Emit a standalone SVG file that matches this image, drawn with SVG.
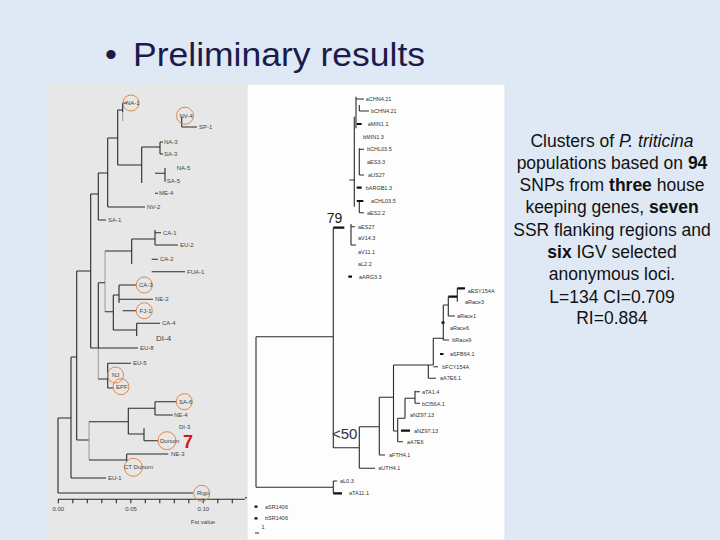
<svg xmlns="http://www.w3.org/2000/svg" width="720" height="540" viewBox="0 0 720 540">
<style>
.br{fill:none;stroke:#2a2a2a;stroke-width:1.1}
.fa{fill:none;stroke:#9a9a9a;stroke-width:1}
.th{fill:none;stroke:#111;stroke-width:2.2}
.ci{fill:none;stroke:#e0864a;stroke-width:1}
.ll{font-family:"Liberation Sans",Arial,sans-serif;font-size:6px;fill:#444}
.rl{font-family:"Liberation Sans",Arial,sans-serif;font-size:5.5px;fill:#333}
.cap{font-family:"Liberation Sans",Arial,sans-serif;font-size:17.5px;fill:#111;text-anchor:middle}
.bs{font-family:"Liberation Sans",Arial,sans-serif;font-size:15px;fill:#333}
</style>
<rect width="720" height="540" fill="#dfe9f5"/>
<g id="title">
<text x="105" y="66" font-family="'Liberation Sans',Arial,sans-serif" font-size="34" fill="#1b1b4b">•</text>
<text x="133" y="66" font-family="'Liberation Sans',Arial,sans-serif" font-size="34" fill="#1b1b4b" textLength="292" lengthAdjust="spacingAndGlyphs">Preliminary results</text>
</g>
<g id="left-tree">
<rect x="48" y="84" width="199" height="456" fill="#e7e7e7"/>
<path class="br" d="M58,418V493M58,493H193M58,418H71M71,357V478M71,478H106M71,357H76.7M76.7,271V440M76.7,440H89M76.7,271H90.7M90.7,194V348M90.7,194H98.3M98.3,173V220M98.3,220H106M98.3,173H107.7M107.7,138V207M107.7,207H145M107.7,138H117.7M117.7,110V165M117.7,110H122.7M122.7,103V112M122.7,103H127M117.7,165H141.7M141.7,147V183M141.7,147H160M160,142V154M160,142H163M160,154H163M155,173.3H165M165,168V181.7M155,193.3H158M181.7,117V127M181.7,127H197"/>
<path class="fa" d="M122.7,112V121M105,251V312M98.3,348V379M89,421.7V460"/>
<path class="br" d="M131.7,239V264M131.7,239H155M155,230V245M155,232.7H161M155,245H178M151.7,259.3H158M151.7,271.7H185M131.7,251H105M98.3,282.7H105M98.3,282.7V348M105,311.7H113.3M113.3,295V330M113.3,295H119M119,285V303M119,285H136M119,299.3H153M122.7,310.7H136M113.3,330H136.7M136.7,323.3V336M136.7,323.3H160M90.7,348H138M98.3,379H107.7M107.7,363.3V388M107.7,363.3H131M107.7,375H108.5M107.7,388H113.5M89,421.7H128.3M128.3,408.3V434M128.3,408.3H155M155,401.7V415M155,401.7H176.5M155,415H172.7M128.3,434H144M144,428.3V440.7M144,440.7H158.3M89,460H126.7M126.7,454V462M126.7,454H168.3"/>
<path class="br" d="M58,499.3H245M58.3,499.3v4M72.8,499.3v4M87.3,499.3v4M101.8,499.3v4M116.3,499.3v4M130.8,499.3v4M145.3,499.3v4M159.8,499.3v4M174.3,499.3v4M188.8,499.3v4M203.3,499.3v4M217.8,499.3v4M232.3,499.3v4"/>
<circle class="ci" cx="131" cy="103" r="8"/>
<circle class="ci" cx="185" cy="115.7" r="8.5"/>
<circle class="ci" cx="144.3" cy="285" r="8"/>
<circle class="ci" cx="144.3" cy="310.7" r="8"/>
<circle class="ci" cx="115.5" cy="375" r="8"/>
<circle class="ci" cx="121" cy="386.7" r="8"/>
<circle class="ci" cx="184.3" cy="401.7" r="8"/>
<circle class="ci" cx="167" cy="440.7" r="9"/>
<circle class="ci" cx="133.3" cy="467.3" r="9"/>
<circle class="ci" cx="201.7" cy="493.3" r="8"/>
<text class="ll" x="126" y="105">NA-1</text>
<text class="ll" x="179.5" y="117.5">NV-4</text>
<text class="ll" x="199" y="129">SP-1</text>
<text class="ll" x="164" y="144">NA-3</text>
<text class="ll" x="164" y="156">SA-3</text>
<text class="ll" x="176.7" y="169.5">NA-5</text>
<text class="ll" x="166.7" y="182.5">SA-5</text>
<text class="ll" x="159" y="195.3">ME-4</text>
<text class="ll" x="147" y="209">NV-2</text>
<text class="ll" x="108" y="222">SA-1</text>
<text class="ll" x="163" y="234.7">CA-1</text>
<text class="ll" x="180" y="247">EU-2</text>
<text class="ll" x="160" y="261.3">CA-2</text>
<text class="ll" x="187" y="273.7">FUA-1</text>
<text class="ll" x="139" y="287">CA-3</text>
<text class="ll" x="155" y="301.3">NE-2</text>
<text class="ll" x="139.5" y="312.7">FJ-1</text>
<text class="ll" x="162" y="325.3">CA-4</text>
<text x="156" y="341" font-family="'Liberation Sans',Arial,sans-serif" font-size="8" fill="#444">DI-4</text>
<text class="ll" x="140" y="350">EU-8</text>
<text class="ll" x="133" y="365.3">EU-5</text>
<text class="ll" x="112" y="377">NJ</text>
<text class="ll" x="116" y="388.7">EPF</text>
<text class="ll" x="179" y="403.7">SA-6</text>
<text class="ll" x="174" y="417">NE-4</text>
<text class="ll" x="179" y="428.5">DI-3</text>
<text x="183" y="447.5" font-family="'Liberation Sans',Arial,sans-serif" font-size="18" font-weight="bold" fill="#d01818">7</text>
<text class="ll" x="160" y="442.7">Dunum</text>
<text class="ll" x="171" y="456">NE-3</text>
<text class="ll" x="124" y="469.3">CT Dunum</text>
<text class="ll" x="108" y="480">EU-1</text>
<text class="ll" x="197" y="495.3">Rigo</text>
<text class="ll" x="58.3" y="511" text-anchor="middle">0.00</text>
<text class="ll" x="131" y="511" text-anchor="middle">0.05</text>
<text class="ll" x="203.3" y="511" text-anchor="middle">0.10</text>
<text class="ll" x="203" y="524" text-anchor="middle">Fst value</text>
</g>
<g id="right-tree">
<rect x="247" y="84" width="258" height="456" fill="#fdfdfd" stroke="#e4e4e4" stroke-width="1"/>
<path class="br" d="M349.3,180H354.3M354.3,116.7V206.7M356,96.7V128.3M356,99H364M359.3,105V111M359.3,111H369M359.3,148.3V175M359.3,149.3H364M359.3,175H364M359.3,201V212.7M359.3,212.7H364M351,224V245M351,226.7H355M351,245H356M333.3,227.7V447.7M256,336.7H333.3M256,336.7V487.3M256,487.3H333.3M333.3,481V493.3M333.3,481H337M333.3,447.7H359.3M359.3,426.7V468.3M359.3,468.3H375M359.3,426.7H379.3M379.3,397.3V455M379.3,455H385M379.3,397.3H393.5M393.5,365V431M393.5,365H428.3M428.3,365V378.3M428.3,378.3H436M428.3,365H433.3M433.3,338.3V365M433.3,338.3H443.3M433.3,366.7H438M443.3,305V340M443.3,340H449M443.3,305H448.3M448.3,296.7V316M448.3,316H455M457.3,288.3V301.7M393.5,431H397.7M397.7,418.3V441.7M397.7,418.3H405M405,398.3V418.3M405,398.3H415M415,390.7V403.3M415,391.7H420M415,403.3H420M397.7,441.7H403M245,497.7H247M255,533H259"/>
<path class="th" d="M356.7,124H361.7M356.7,187.7H361.7M356.7,201H363.3M333.3,227.7H344.3M348.3,276.7H352M333.3,493.3H342M448.3,296.7H457.3M457.3,288.3H465M440,354H443.5M441.5,322.7H444.5M401,430.7H410M254.5,506.7H257.5M254.5,518.3H257.5"/>
<text class="rl" x="365.7" y="101">aCHN4.21</text>
<text class="rl" x="371" y="113">bCHN4.21</text>
<text class="rl" x="367.7" y="126">aMIN1.1</text>
<text class="rl" x="363" y="138.7">bMIN1.3</text>
<text class="rl" x="367" y="151.3">bCHL03.5</text>
<text class="rl" x="367" y="163.7">aES3.3</text>
<text class="rl" x="368" y="177">aUS27</text>
<text class="rl" x="365.7" y="189.7">bARGB1.3</text>
<text class="rl" x="371" y="203">aCHL03.5</text>
<text class="rl" x="367" y="214.7">aES2.2</text>
<text x="326.7" y="222.7" font-family="'Liberation Sans',Arial,sans-serif" font-size="14" fill="#222">79</text>
<text class="rl" x="358" y="228.7">aES27</text>
<text class="rl" x="358" y="240.3">aV14.3</text>
<text class="rl" x="358" y="253.7">aV11.1</text>
<text class="rl" x="358" y="266">aL2.2</text>
<text class="rl" x="359" y="278.7">aARG3.3</text>
<text class="rl" x="467.7" y="293">aESY154A</text>
<text class="rl" x="465" y="303.7">aRace3</text>
<text class="rl" x="457" y="318">aRace1</text>
<text class="rl" x="450" y="330.3">aRace6</text>
<text class="rl" x="452.3" y="342">bRace9</text>
<text class="rl" x="450" y="356">aSFB64.1</text>
<text class="rl" x="442.3" y="368.7">bFCY154A</text>
<text class="rl" x="440" y="380.3">aA7E6.1</text>
<text class="rl" x="422" y="393.7">aTA1.4</text>
<text class="rl" x="422" y="406.3">bCI56A.1</text>
<text class="rl" x="410" y="417">aNZ97.13</text>
<text class="rl" x="414" y="432.7">aNZ97.13</text>
<text class="rl" x="407" y="443.7">aA7E6</text>
<text class="rl" x="389" y="457">aFTH4.1</text>
<text class="rl" x="378.3" y="470.3">aUTH4.1</text>
<text class="rl" x="340" y="483">aL0.3</text>
<text class="rl" x="349" y="495.3">aTA11.1</text>
<text class="rl" x="265" y="508.7">aSR1406</text>
<text class="rl" x="265" y="520.3">bSR1406</text>
<text class="rl" x="261.5" y="529">1</text>
<text class="bs" x="332" y="439">&lt;50</text>
</g>
<g id="caption">
<text class="cap" x="612" y="147">Clusters of <tspan font-style="italic">P. triticina</tspan></text>
<text class="cap" x="612" y="169">populations based on <tspan font-weight="bold">94</tspan></text>
<text class="cap" x="612" y="191">SNPs from <tspan font-weight="bold">three</tspan> house</text>
<text class="cap" x="612" y="213">keeping genes, <tspan font-weight="bold">seven</tspan></text>
<text class="cap" x="612" y="236">SSR flanking regions and</text>
<text class="cap" x="612" y="258"><tspan font-weight="bold">six</tspan> IGV selected</text>
<text class="cap" x="612" y="280">anonymous loci.</text>
<text class="cap" x="612" y="303">L=134  CI=0.709</text>
<text class="cap" x="612" y="324">RI=0.884</text>
</g>
</svg>
